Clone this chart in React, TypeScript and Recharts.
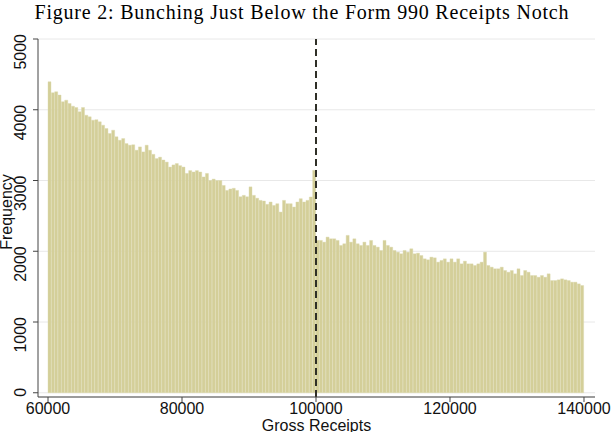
import { BarChart, Bar, XAxis, YAxis, CartesianGrid, ReferenceLine } from 'recharts'

const title = 'Figure 2: Bunching Just Below the Form 990 Receipts Notch'
const xLabel = 'Gross Receipts'
const yLabel = 'Frequency'

// bins of 500 starting at 60000
const binStart = 60000
const binWidth = 500

const frequency = [
  4395, 4240, 4254, 4207, 4113, 4136, 4089, 4051, 4032, 3971,
  4032, 3923, 3900, 3853, 3860, 3829, 3782, 3735, 3664, 3711,
  3617, 3569, 3593, 3522, 3499, 3505, 3428, 3475, 3404, 3499,
  3428, 3370, 3310, 3330, 3290, 3260, 3190, 3220, 3240, 3210,
  3190, 3100, 3140, 3120, 3140, 3120, 3050, 3100, 3000, 3020,
  3000, 3000, 2930, 2860, 2880, 2890, 2860, 2770, 2790, 2770,
  2910, 2790, 2750, 2719, 2710, 2663, 2696, 2648, 2672, 2554,
  2719, 2672, 2672, 2625, 2696, 2743, 2696, 2719, 2767, 3144,
  2153, 2153, 2129, 2200, 2176, 2176, 2153, 2082, 2106, 2224,
  2129, 2176, 2106, 2082, 2129, 2082, 2153, 2082, 2058, 2011,
  2153, 2082, 2058, 2011, 1987, 1964, 2011, 1987, 2035, 1964,
  1973, 1940, 1893, 1879, 1917, 1907, 1846, 1870, 1893, 1846,
  1893, 1846, 1893, 1822, 1860, 1822, 1822, 1799, 1822, 1846,
  1987, 1799, 1775, 1752, 1752, 1775, 1728, 1704, 1728, 1681,
  1752, 1657, 1728, 1704, 1657, 1657, 1633, 1657, 1633, 1681,
  1586, 1586, 1596, 1610, 1596, 1586, 1563, 1563, 1539, 1516,
]

const xTicks = [60000, 80000, 100000, 120000, 140000]
const yTicks = [0, 1000, 2000, 3000, 4000, 5000]
const notch = 100000

const data = frequency.map((f, i) => ({
  receipts: binStart + binWidth * i + binWidth / 2,
  frequency: f,
}))

const sans = '"Liberation Sans", Arial, Helvetica, sans-serif'

// rotated labels hang just below their tick, as in the original
function YTick({ x, y, payload }: any) {
  const bx = x - 5
  const by = y - 5
  return (
    <text
      x={bx}
      y={by}
      transform={`rotate(-90, ${bx}, ${by})`}
      textAnchor="end"
      fontSize={16}
      fontFamily={sans}
      fill="#111"
    >
      {payload.value}
    </text>
  )
}

export default function App() {
  return (
    <div style={{ position: 'relative', width: 612, height: 432, background: '#fff', overflow: 'hidden' }}>
      <style>{'body{margin:0}'}</style>
      <BarChart
        width={612}
        height={432}
        data={data}
        margin={{ top: 39, right: 17, bottom: 0, left: 0 }}
        barCategoryGap={0}
        barGap={0}
      >
        <CartesianGrid vertical={false} stroke="#e8e8e8" />
        <XAxis
          type="number"
          dataKey="receipts"
          domain={[58507, 141642]}
          ticks={xTicks}
          height={35}
          tickSize={5}
          tickMargin={1}
          stroke="#444"
          tick={{ fontSize: 16, fontFamily: sans, fill: '#111' }}
          interval={0}
        />
        <YAxis
          type="number"
          domain={[-60, 5000]}
          ticks={yTicks}
          width={38}
          tickSize={5}
          stroke="#444"
          tick={<YTick />}
          interval={0}
        />
        <Bar dataKey="frequency" fill="#d4cf99" stroke="#dcd8ad" strokeWidth={0.4} isAnimationActive={false} />
        <ReferenceLine x={notch} stroke="#2f2f27" strokeWidth={2} strokeDasharray="7 4" />
      </BarChart>
      <svg width={612} height={432} style={{ position: 'absolute', left: 0, top: 0, pointerEvents: 'none' }}>
        <text
          x={301.5}
          y={19}
          textAnchor="middle"
          fontSize={20}
          fontFamily='"Liberation Serif", "Times New Roman", serif'
          textLength={534}
          lengthAdjust="spacing"
          fill="#000"
        >
          {title}
        </text>
        <text
          x={12}
          y={212}
          transform="rotate(-90, 12, 212)"
          textAnchor="middle"
          fontSize={16}
          fontFamily={sans}
          fill="#111"
        >
          {yLabel}
        </text>
        <text x={316.5} y={431} textAnchor="middle" fontSize={16} fontFamily={sans} fill="#111">
          {xLabel}
        </text>
      </svg>
    </div>
  )
}
